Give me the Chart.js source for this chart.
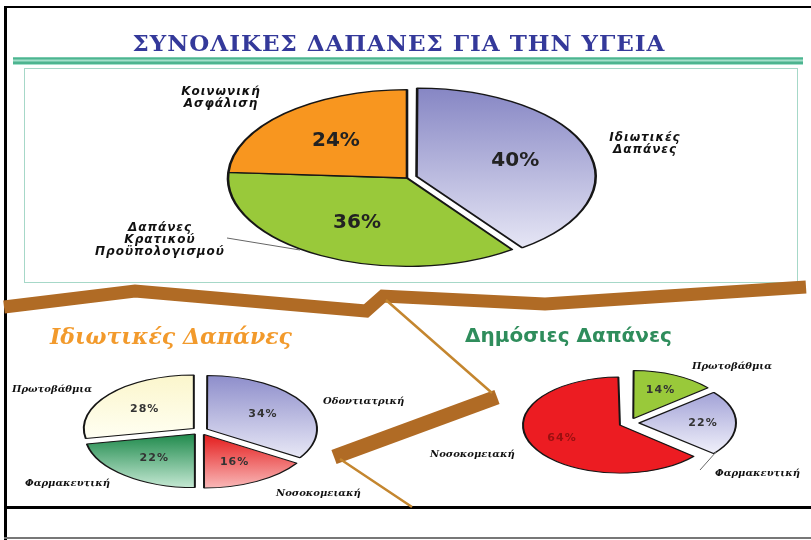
<!DOCTYPE html>
<html lang="el">
<head>
  <meta charset="utf-8">
  <title>Συνολικές δαπάνες για την υγεία</title>
  <style>
    html, body { margin: 0; padding: 0; background: #fff; }
    #page { position: relative; width: 811px; height: 540px; overflow: hidden; background: #fff; }
    #page canvas { position: absolute; }
  </style>
  <script src="https://cdn.jsdelivr.net/npm/chart.js"></script>
</head>
<body>
<div id="page">
  <canvas id="bg" width="811" height="540"></canvas>
  <canvas id="totalPie"></canvas>
  <canvas id="privatePie"></canvas>
  <canvas id="publicPie"></canvas>
</div>
<script>
  // --- data ---
  const mainTitle = 'ΣΥΝΟΛΙΚΕΣ ΔΑΠΑΝΕΣ ΓΙΑ ΤΗΝ ΥΓΕΙΑ';
  const privateTitle = 'Ιδιωτικές Δαπάνες';
  const publicTitle = 'Δημόσιες Δαπάνες';

  const totalLabels = [['Ιδιωτικές', 'Δαπάνες'], ['Δαπάνες', 'Κρατικού', 'Προϋπολογισμού'], ['Κοινωνική', 'Ασφάλιση']];
  const totalValues = [40, 36, 24];

  const privateLabels = ['Οδοντιατρική', 'Νοσοκομειακή', 'Φαρμακευτική', 'Πρωτοβάθμια'];
  const privateValues = [34, 16, 22, 28];

  const publicLabels = ['Πρωτοβάθμια', 'Φαρμακευτική', 'Νοσοκομειακή'];
  const publicValues = [14, 22, 64];

  // --- background: frame, bands, titles ---
  const bg = document.getElementById('bg').getContext('2d');
  bg.fillStyle = '#000';
  bg.fillRect(4, 6, 807, 2);
  bg.fillRect(4, 6, 3, 534);
  bg.fillRect(4, 506, 807, 3);
  bg.fillStyle = '#777';
  bg.fillRect(4, 537, 807, 2);

  bg.fillStyle = '#a4e0cb';
  bg.fillRect(13, 57, 790, 8);
  bg.fillStyle = '#4db490';
  bg.fillRect(13, 57.5, 790, 2);
  bg.fillRect(13, 61.5, 790, 2.5);

  bg.strokeStyle = '#a6d8c8';
  bg.lineWidth = 1;
  bg.strokeRect(24.5, 68.5, 773, 214);

  // brown zig-zag bands
  bg.lineJoin = 'miter';
  bg.strokeStyle = '#b06b25';
  bg.lineWidth = 13;
  bg.beginPath();
  bg.moveTo(4, 307); bg.lineTo(135, 291); bg.lineTo(366, 311);
  bg.lineTo(383, 296); bg.lineTo(545, 304); bg.lineTo(806, 287);
  bg.stroke();
  bg.lineWidth = 15;
  bg.beginPath();
  bg.moveTo(497, 397); bg.lineTo(334, 457);
  bg.stroke();
  bg.strokeStyle = '#c4862f';
  bg.lineWidth = 2.5;
  bg.beginPath();
  bg.moveTo(386, 300); bg.lineTo(492, 393);
  bg.moveTo(340, 459); bg.lineTo(412, 507);
  bg.stroke();

  bg.textBaseline = 'middle';
  bg.textAlign = 'center';
  bg.font = 'bold 23px "DejaVu Serif"';
  bg.letterSpacing = '1px';
  bg.fillStyle = '#34399a';
  bg.fillText(mainTitle, 399, 45);
  bg.letterSpacing = '0px';
  bg.textAlign = 'left';
  bg.font = 'italic bold 22px "DejaVu Serif"';
  bg.fillStyle = '#f29a2c';
  bg.fillText(privateTitle, 50, 338);
  bg.font = 'bold 20px "DejaVu Sans"';
  bg.fillStyle = '#2f8d5c';
  bg.fillText(publicTitle, 465, 337);

  // --- pies: squashed into ellipses, labels drawn after ---
  const ellipsePlugin = {
    id: 'ellipse',
    beforeDatasetsDraw(chart, args, opts) {
      const ctx = chart.ctx;
      const arcs = chart.getDatasetMeta(0).data;
      const cx = arcs[0].x, cy = arcs[0].y;
      ctx.save();
      ctx.translate(cx, cy);
      ctx.scale(1, opts.squash);
      ctx.translate(-cx, -cy);
      // exploded big slices would otherwise grow, keep the same radius
      arcs.forEach(a => {
        const off = (a.options.offset || 0) / 4;
        const fix = 1 - Math.sin(Math.min(Math.PI, a.circumference));
        a._r = a.outerRadius;
        a.outerRadius = a._r - off * fix;
      });
    },
    afterDatasetsDraw(chart, args, opts) {
      const ctx = chart.ctx;
      const arcs = chart.getDatasetMeta(0).data;
      arcs.forEach(a => { a.outerRadius = a._r; });
      ctx.restore();

      const cx = arcs[0].x, cy = arcs[0].y;
      const values = chart.data.datasets[0].data;
      ctx.save();
      ctx.textAlign = 'center';
      ctx.textBaseline = 'middle';
      ctx.font = opts.valueFont;
      ctx.letterSpacing = opts.valueSpacing || '0px';
      arcs.forEach((a, i) => {
        const mid = (a.startAngle + a.endAngle) / 2;
        const rr = a.outerRadius * opts.labelAt + (a.options.offset || 0) / 4;
        ctx.fillStyle = opts.valueColors[i];
        ctx.fillText(values[i] + '%', a.x + Math.cos(mid) * rr, a.y + Math.sin(mid) * rr * opts.squash);
      });

      ctx.font = opts.nameFont;
      ctx.letterSpacing = opts.nameSpacing || '0px';
      ctx.fillStyle = '#111';
      chart.data.labels.forEach((lab, i) => {
        const p = opts.names[i];
        const lines = Array.isArray(lab) ? lab : [lab];
        ctx.textAlign = p.align;
        lines.forEach((t, j) => ctx.fillText(t, cx + p.dx, cy + p.dy + j * opts.lineHeight));
      });

      ctx.strokeStyle = '#666';
      ctx.lineWidth = 1;
      (opts.leaders || []).forEach(l => {
        ctx.beginPath();
        ctx.moveTo(cx + l[0], cy + l[1]);
        ctx.lineTo(cx + l[2], cy + l[3]);
        ctx.stroke();
      });
      ctx.restore();
    }
  };

  function sliceFill(colors) {
    return c => {
      const col = colors[c.dataIndex];
      if (!Array.isArray(col)) return col;
      const arc = c.chart.getDatasetMeta(0).data[c.dataIndex];
      if (!arc || arc.outerRadius == null || arc.startAngle == null) return col[0];
      const ys = [0, Math.sin(arc.startAngle), Math.sin(arc.endAngle)];
      [-Math.PI / 2, Math.PI / 2, 3 * Math.PI / 2].forEach(t => {
        if (t > arc.startAngle && t < arc.endAngle) ys.push(Math.sin(t));
      });
      const r = arc.outerRadius;
      const g = c.chart.ctx.createLinearGradient(0, arc.y + r * Math.min(...ys), 0, arc.y + r * Math.max(...ys));
      g.addColorStop(0, col[0]);
      g.addColorStop(1, col[1]);
      return g;
    };
  }

  function makePie(id, labels, values, cfg) {
    const canvas = document.getElementById(id);
    const w = 900;
    const h = Math.ceil(2 * cfg.radius + Math.max(...cfg.offsets) + 20);
    canvas.width = w;
    canvas.height = h;
    canvas.style.left = (cfg.cx - w / 2) + 'px';
    canvas.style.top = (cfg.cy - h / 2) + 'px';
    const chart = new Chart(canvas.getContext('2d'), {
      type: 'pie',
      data: {
        labels: labels,
        datasets: [{
          data: values,
          radius: cfg.radius,
          offset: cfg.offsets,
          backgroundColor: sliceFill(cfg.colors),
          borderColor: '#161616',
          borderWidth: cfg.border
        }]
      },
      options: {
        responsive: false,
        animation: false,
        events: [],
        plugins: {
          legend: { display: false },
          tooltip: { enabled: false },
          ellipse: cfg.plugin
        }
      },
      plugins: [ellipsePlugin]
    });
    chart.update();
    return chart;
  }

  makePie('totalPie', totalLabels, totalValues, {
    cx: 407, cy: 177.5, radius: 179, offsets: [40, 0, 0], border: 2.6,
    colors: [['#8686c4', '#e6e6f5'], '#99c93a', '#f8961f'],
    plugin: {
      squash: 0.494, labelAt: 0.58,
      valueFont: 'bold 20px "DejaVu Sans"', valueColors: ['#222', '#222', '#222'],
      nameFont: 'italic bold 12px "DejaVu Sans"', nameSpacing: '1px', lineHeight: 12,
      names: [{ dx: 238, dy: -40, align: 'center' }, { dx: -247, dy: 50, align: 'center' }, { dx: -186, dy: -86, align: 'center' }],
      leaders: [[-180, 60, -107, 72]]
    }
  });

  makePie('privatePie', privateLabels, privateValues, {
    cx: 200, cy: 431, radius: 110, offsets: [32, 32, 32, 32], border: 2,
    colors: [['#8e8ecb', '#e8e8f6'], ['#e41c1c', '#f9b8b8'], ['#1f8a4c', '#c4e8d3'], ['#fbf6cc', '#fffff2']],
    plugin: {
      squash: 0.487, labelAt: 0.58,
      valueFont: 'bold 11px "DejaVu Sans"', valueSpacing: '1px', valueColors: ['#333', '#333', '#333', '#333'],
      nameFont: 'italic bold 10px "DejaVu Serif"', lineHeight: 11,
      names: [{ dx: 123, dy: -30, align: 'left' }, { dx: 76, dy: 62, align: 'left' }, { dx: -175, dy: 52, align: 'left' }, { dx: -188, dy: -42, align: 'left' }]
    }
  });

  makePie('publicPie', publicLabels, publicValues, {
    cx: 629, cy: 423, radius: 97, offsets: [40, 40, 40], border: 2,
    colors: ['#99c93a', ['#a2a2d7', '#f0f0fa'], '#ec1c22'],
    plugin: {
      squash: 0.495, labelAt: 0.66,
      valueFont: 'bold 11px "DejaVu Sans"', valueSpacing: '1px', valueColors: ['#333', '#333', '#9a1010'],
      nameFont: 'italic bold 10px "DejaVu Serif"', lineHeight: 11,
      names: [{ dx: 63, dy: -57, align: 'left' }, { dx: 86, dy: 50, align: 'left' }, { dx: -199, dy: 31, align: 'left' }],
      leaders: [[71, 47, 87, 29]]
    }
  });
</script>
</body>
</html>
